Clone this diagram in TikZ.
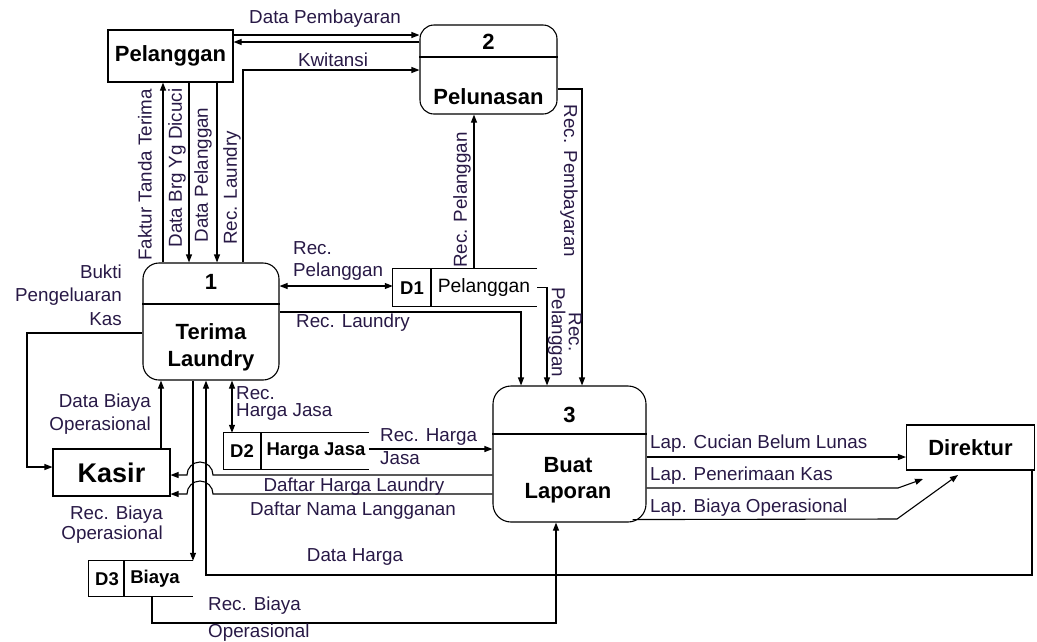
\documentclass[tikz,border=0pt]{standalone}
\usepackage{fontspec}
\setmainfont{Liberation Sans}
\usetikzlibrary{arrows.meta,calc}
\definecolor{labc}{RGB}{40,25,70}
\begin{document}
\begin{tikzpicture}[x=1pt,y=-1pt,
  lbl/.style={font=\fontsize{18.8}{23.5}\selectfont, text=labc, inner sep=0pt},
  title/.style={font=\fontsize{22}{27}\selectfont\bfseries, inner sep=0pt},
  storetxt/.style={font=\fontsize{18.5}{22}\selectfont\bfseries, inner sep=0pt},
  storereg/.style={font=\fontsize{19.3}{22}\selectfont, inner sep=0pt},
  proc/.style={draw, rounded corners=16pt, line width=1.1pt, inner sep=0pt},
  ent/.style={draw, line width=1.1pt, inner sep=0pt},
  store/.style={inner sep=0pt},
  ln/.style={line width=1.1pt},
  flow/.style={line width=1.1pt, -{Triangle[length=8pt,width=6pt]}},
  bflow/.style={line width=1.1pt, {Triangle[length=8pt,width=6pt]}-{Triangle[length=8pt,width=6pt]}}
]
\useasboundingbox (0,0) rectangle (1037,641);

% external entities
\node[ent, title, minimum width=125pt, minimum height=52pt] (pel) at (170.5,56) {Pelanggan};
\node[ent, font=\fontsize{27}{30}\selectfont\bfseries, minimum width=117pt, minimum height=47pt] (kasir) at (111.5,472.5) {Kasir};
\node[ent, title, minimum width=128pt, minimum height=45pt] (dir) at (970.5,447.5) {Direktur};

% processes
\node[proc, minimum width=136pt, minimum height=117pt] (p1) at (211,321.5) {};
\draw[ln] (p1.west |- 0,304) -- (p1.east |- 0,304);
\node[title] (p1n) at (211,282) {1};
\node[title, align=center] (p1t) at (211,347) {Terima\\Laundry};

\node[proc, rounded corners=14pt, minimum width=137pt, minimum height=89pt] (p2) at (488.5,69.5) {};
\draw[ln] (p2.west |- 0,57) -- (p2.east |- 0,57);
\node[title] (p2n) at (488.5,42) {2};
\node[title] (p2t) at (488.5,97) {Pelunasan};

\node[proc, rounded corners=18pt, minimum width=153pt, minimum height=136pt] (p3) at (569.5,454) {};
\draw[ln] (p3.west |- 0,434) -- (p3.east |- 0,434);
\node[title] (p3n) at (569.5,415) {3};
\node[title, align=center, font=\fontsize{22}{26}\selectfont\bfseries] (p3t) at (568,480) {Buat\\Laporan};

% data stores
\node[store, minimum width=144pt, minimum height=37pt] (d1) at (465,287.5) {};
\draw[ln] (d1.north east) -- (d1.north west) -- (d1.south west) -- (d1.south east);
\draw[ln] (431,269) -- (431,306);
\node[storetxt] (d1a) at (412,288) {D1};
\node[storereg] (d1b) at (484,288) {Pelanggan};

\node[store, minimum width=145pt, minimum height=36pt] (d2) at (296.5,451) {};
\draw[ln] (d2.north east) -- (d2.north west) -- (d2.south west) -- (d2.south east);
\draw[ln] (261,433) -- (261,469);
\node[storetxt] (d2a) at (242,451) {D2};
\node[storetxt] (d2b) at (316,451) {Harga Jasa};

\node[store, minimum width=104pt, minimum height=35pt] (d3) at (141,578.5) {};
\draw[ln] (d3.north east) -- (d3.north west) -- (d3.south west) -- (d3.south east);
\draw[ln] (124,561) -- (124,596);
\node[storetxt] (d3a) at (107,579) {D3};
\node[storetxt] (d3b) at (155,579) {Biaya};

% connectors
\draw[flow] (pel.east |- 0,35) -- (p2.west |- 0,35);
\draw[flow] (p2.west |- 0,42) -- (pel.east |- 0,42);
\draw[flow] (p1.north -| 243,0) |- (p2.west |- 0,70);
\draw[flow] (p1.north -| 163,0) -- (pel.south -| 163,0);
\draw[flow] (pel.south -| 189,0) -- (p1.north -| 189,0);
\draw[flow] (pel.south -| 217,0) -- (p1.north -| 217,0);
\draw[bflow] (p1.east |- 0,286) -- (d1.west |- 0,286);
\draw[flow] (p1.east |- 0,312) -| (p3.north -| 521,0);
\draw[flow] (d1.north -| 474,0) -- (p2.south -| 474,0);
\draw[flow] (d1.east) -| (p3.north -| 547,0);
\draw[flow] (p2.east |- 0,89) -| (p3.north -| 582,0);
\draw[flow] (p1.west |- 0,333) -| (27,400) |- (kasir.west |- 0,467);
\draw[flow] (kasir.north -| 161,0) -- (p1.south -| 161,0);
\draw[flow] (p1.south -| 193,0) -- (d3.north -| 193,0);
\draw[flow] (dir.south -| 1032,0) |- (206,575) -- (p1.south -| 206,0);
\draw[bflow] (p1.south -| 232,0) -- (d2.north -| 232,0);
\draw[flow] (d2.east |- 0,449) -- (p3.west |- 0,449);
\draw[flow] (p3.west |- 0,475) -- (213,475) arc[start angle=0,end angle=180,radius=13pt] -- (kasir.east |- 0,475);
\draw[flow] (p3.west |- 0,494) -- (213,494) arc[start angle=0,end angle=180,radius=13pt] -- (kasir.east |- 0,494);
\draw[flow] (d3.south -| 152,0) |- (556,623) -- (p3.south -| 556,0);
\draw[flow] (p3.east |- 0,457) -- (dir.west |- 0,457);
\coordinate (t2) at (923,479);
\coordinate (t3) at (958,475);
\draw[flow] (p3.east |- 0,488) -- (898,488) -- (t2);
\draw[flow] ($(p3.south east)+(-14,-3)$) -- (897,519) -- (t3);

% labels
\node[lbl] at (325,19) {Data Pembayaran};
\node[lbl] at (333,60) {Kwitansi};
\node[lbl,rotate=90] at (145,175) {Faktur Tanda Terima};
\node[lbl,rotate=90] at (177,168) {Data Brg Yg Dicuci};
\node[lbl,rotate=90] at (203,175) {Data Pelanggan};
\node[lbl,rotate=90] at (232,188) {Rec. Laundry};
\node[lbl,rotate=90] at (462,200) {Rec. Pelanggan};
\node[lbl,rotate=-90] at (569,181) {Rec. Pembayaran};
\node[lbl,rotate=-90,align=center,font=\fontsize{18.8}{17}\selectfont] at (565,332) {Rec.\\Pelanggan};
\node[lbl,align=left,anchor=west,font=\fontsize{18.8}{22}\selectfont] at (293,261) {Rec.\\Pelanggan};
\node[lbl] at (353,323) {Rec. Laundry};
\node[lbl,align=right,anchor=east] at (122,295) {Bukti\\Pengeluaran\\Kas};
\node[lbl,align=right,anchor=east] at (151,414) {Data Biaya\\Operasional};
\node[lbl,align=left,anchor=west,font=\fontsize{18.8}{17}\selectfont] at (236,403) {Rec.\\Harga Jasa};
\node[lbl,anchor=west] at (380,437) {Rec. Harga};
\node[lbl,anchor=west] at (380,458) {Jasa};
\node[lbl] at (354,487) {Daftar Harga Laundry};
\node[lbl] at (353,511) {Daftar Nama Langganan};
\node[lbl,align=right,anchor=east,font=\fontsize{18.8}{20}\selectfont] at (163,525) {Rec. Biaya\\Operasional};
\node[lbl] at (355,557) {Data Harga};
\node[lbl,anchor=west] at (208,606) {Rec. Biaya};
\node[lbl,anchor=west] at (208,633) {Operasional};
\node[lbl,anchor=west] at (650,444) {Lap. Cucian Belum Lunas};
\node[lbl,anchor=west] at (650,476) {Lap. Penerimaan Kas};
\node[lbl,anchor=west] at (650,508) {Lap. Biaya Operasional};
\end{tikzpicture}
\end{document}
